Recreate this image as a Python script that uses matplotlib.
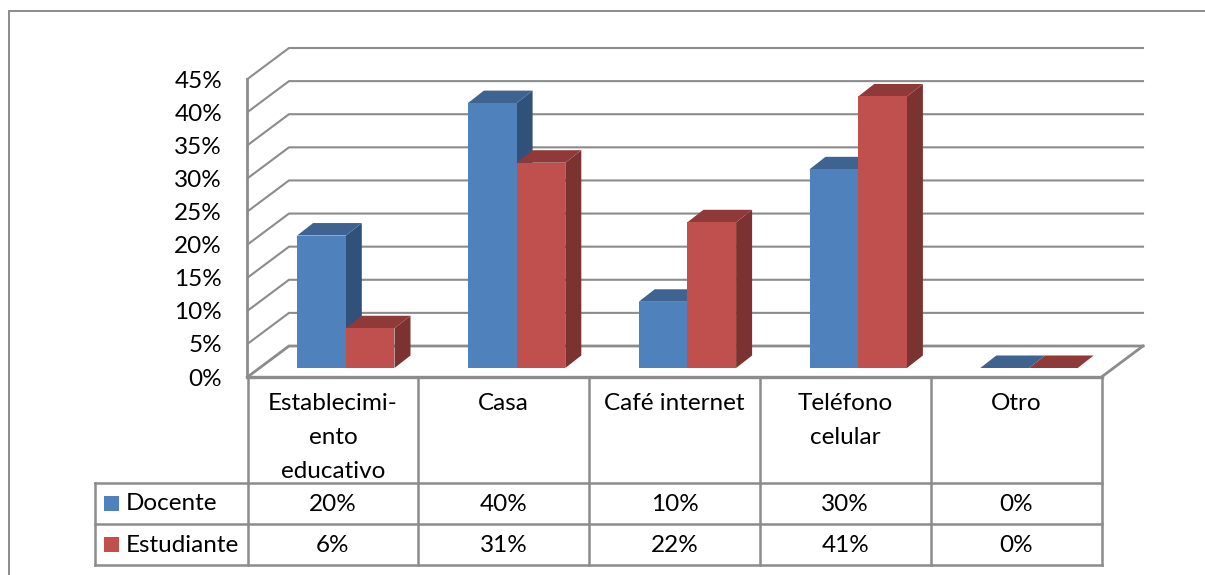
import matplotlib
matplotlib.use("Agg")
import matplotlib.pyplot as plt
from matplotlib.patches import Rectangle
from matplotlib.transforms import offset_copy

categories = ["Establecimi-\nento\neducativo", "Casa", "Café internet", "Teléfono\ncelular", "Otro"]
series_names = ["Docente", "Estudiante"]
docente = [20, 40, 10, 30, 0]
estudiante = [6, 31, 22, 41, 0]
y_ticks = [0, 5, 10, 15, 20, 25, 30, 35, 40, 45]

W, H = 1205, 575
FRONT = ["#4F81BD", "#C0504D"]
TOP = ["#3F6390", "#8F3A38"]
SIDE = ["#30527A", "#7C3230"]
GRID = "#8C8C8C"
FONT = "Lato"
FS = 17.5

plt.rcParams["font.family"] = [FONT, "DejaVu Sans"]
fig = plt.figure(figsize=(W / 100, H / 100), dpi=100, facecolor="white")

# overlay in pixel coordinates, for the frame and the data table
pg = fig.add_axes([0, 0, 1, 1])
pg.set_xlim(0, W)
pg.set_ylim(H, 0)
pg.axis("off")

# plot axes: its rectangle is the front plane of the 3-D box
L, R, T, B = 247.5, 1101.5, 79, 377
ax = fig.add_axes([L / W, 1 - B / H, (R - L) / W, (B - T) / H])
ax.set_xlim(-0.5, 4.5)
ax.set_ylim(0, 45)
ax.axis("off")
ax.patch.set_alpha(0)

ux = (R - L) / 5       # px per category
uy = (B - T) / 45      # px per percent
wall_dx, wall_dy = 41.5 / ux, 31 / uy
bar_w = 48.7 / ux
bar_x0 = 12.9 / ux
base = 9 / uy
depth_dx, depth_dy = 16 / ux, 12.5 / uy

tick_trans = offset_copy(ax.transData, fig=fig, x=-25.5, y=-2, units="dots")

# walls and floor
for v in y_ticks:
    lw = 2.0 if v == 0 else 1.5
    ax.plot([-0.5, -0.5 + wall_dx, 4.5 + wall_dx], [v, v + wall_dy, v + wall_dy],
            color=GRID, lw=lw, clip_on=False, zorder=1, solid_joinstyle="miter")
    ax.text(-0.5, v, f"{v}%", transform=tick_trans, ha="right", va="center",
            fontsize=FS, color="black", clip_on=False)
ax.plot([-0.5, -0.5], [0, 45], color=GRID, lw=2.0, clip_on=False, zorder=1)
ax.plot([4.5, 4.5 + wall_dx], [0, wall_dy], color=GRID, lw=2.0, clip_on=False, zorder=1)
ax.plot([-0.5, 4.5], [0, 0], color=GRID, lw=2.4, clip_on=False, zorder=1)

# 3-D bars
for i in range(len(categories)):
    for s, vals in enumerate([docente, estudiante]):
        v = vals[i]
        x0 = i + bar_x0 + (s - 1) * bar_w
        x1 = x0 + bar_w
        z = 3 + s
        top = base + v
        ax.fill([x1, x1 + depth_dx, x1 + depth_dx, x1],
                [base, base + depth_dy, top + depth_dy, top],
                color=SIDE[s], lw=0, clip_on=False, zorder=z)
        ax.fill([x0, x1, x1 + depth_dx, x0 + depth_dx],
                [top, top, top + depth_dy, top + depth_dy],
                color=TOP[s], lw=0, clip_on=False, zorder=z)
        ax.bar(x0, v, width=bar_w, bottom=base, align="edge", color=FRONT[s],
               lw=0, clip_on=False, zorder=z)

# outer frame
pg.plot([9, 9, W], [H, 11, 11], color=GRID, lw=1.4, solid_joinstyle="miter")

# data table
col_x = [L + ux * i for i in range(6)]
row_y = [377, 483, 524, 565]
TLW = 1.8
for x in col_x:
    pg.plot([x, x], [row_y[0], row_y[-1]], color=GRID, lw=TLW)
pg.plot([95, 95], [row_y[1], row_y[3]], color=GRID, lw=TLW)
for y in row_y[1:]:
    pg.plot([95, col_x[-1]], [y, y], color=GRID, lw=TLW)

for i, c in enumerate(categories):
    cx = (col_x[i] + col_x[i + 1]) / 2
    pg.text(cx, 393, c, ha="center", va="top", fontsize=FS, linespacing=1.76, color="black")
    pg.text(cx, 504.5, f"{docente[i]}%", ha="center", va="center", fontsize=FS, color="black")
    pg.text(cx, 545.5, f"{estudiante[i]}%", ha="center", va="center", fontsize=FS, color="black")

for s, (name, yc) in enumerate(zip(series_names, [503, 544.5])):
    pg.add_patch(Rectangle((104, yc - 7.5), 15, 15, color=FRONT[s], lw=0))
    pg.text(126, yc + 1, name, ha="left", va="center", fontsize=FS, color="black")

fig.savefig("out.png", dpi=100, facecolor="white")
